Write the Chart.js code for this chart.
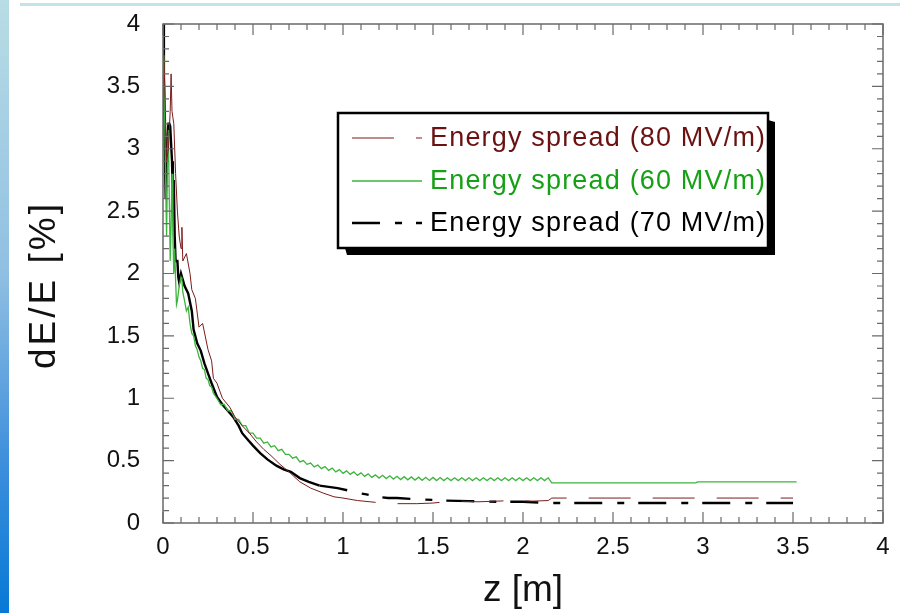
<!DOCTYPE html>
<html>
<head>
<meta charset="utf-8">
<script src="https://cdn.jsdelivr.net/npm/chart.js@4.4.1/dist/chart.umd.min.js"></script>
<style>
  body { margin: 0; background: #fff; }
  #wrap { position: relative; width: 900px; height: 613px; overflow: hidden; }
  #strip { position: absolute; left: 0; top: 0; width: 9px; height: 613px;
           background: linear-gradient(to bottom, #b9dde5 0%, #8fbfe2 45%, #3f8fdc 75%, #0679d6 100%); }
  #topline { position: absolute; left: 20px; top: 3px; width: 880px; height: 3px; background: #c4e2ea; }
  canvas { position: absolute; left: 0; top: 0; }
</style>
</head>
<body>
<div id="wrap">
  <div id="strip"></div>
  <div id="topline"></div>
  <canvas id="chart" width="900" height="613"></canvas>
</div>
<script>
// дані: [z (м), dE/E (%)]
const spread80 = [
    [0, 3.9], [0.01, 3.5], [0.02, 2.9], [0.03, 3.0], [0.04, 3.3], [0.045, 3.6], [0.05, 3.3],
    [0.06, 3.2], [0.07, 2.8], [0.08, 2.5], [0.09, 2.3], [0.1, 2.2], [0.105, 2.37], [0.11, 2.1],
    [0.13, 2.16], [0.15, 2.0], [0.16, 1.87], [0.18, 1.8], [0.2, 1.57], [0.22, 1.6], [0.25, 1.39],
    [0.27, 1.3], [0.28, 1.16], [0.3, 1.12], [0.33, 1.0], [0.37, 0.93], [0.4, 0.85], [0.44, 0.78],
    [0.48, 0.72], [0.52, 0.65], [0.56, 0.59], [0.6, 0.54], [0.65, 0.47], [0.7, 0.41], [0.76, 0.33],
    [0.82, 0.28], [0.89, 0.24], [0.95, 0.21], [1.0, 0.2], [1.08, 0.18], [1.15, 0.17], [1.22, 0.16],
    [1.3, 0.155], [1.41, 0.155], [1.5, 0.16], [1.57, 0.17], [1.65, 0.175], [1.75, 0.17],
    [1.85, 0.175], [1.95, 0.18], [2.05, 0.175], [2.14, 0.18], [2.16, 0.2], [2.5, 0.2], [3.0, 0.2], [3.5, 0.2]
];

const spread60 = [
    [0, 3.75], [0.005, 3.6], [0.01, 3.2], [0.015, 2.7], [0.02, 2.3], [0.025, 2.9], [0.03, 3.15],
    [0.035, 2.6], [0.04, 2.1], [0.045, 2.4], [0.05, 2.8], [0.055, 2.3], [0.06, 2.0], [0.065, 2.2],
    [0.07, 1.95], [0.075, 1.75], [0.08, 1.78], [0.09, 1.9], [0.1, 1.97], [0.105, 1.95], [0.11, 1.85],
    [0.12, 1.78], [0.13, 1.7], [0.14, 1.73], [0.15, 1.6], [0.16, 1.52], [0.17, 1.5], [0.18, 1.42],
    [0.19, 1.39], [0.2, 1.33], [0.21, 1.3], [0.22, 1.24], [0.23, 1.23], [0.24, 1.16], [0.25, 1.15],
    [0.26, 1.1], [0.27, 1.09], [0.28, 1.04],
    [0.30, 1.00], [0.32, 0.95], [0.34, 0.95], [0.36, 0.90], [0.38, 0.90], [0.40, 0.83], [0.42, 0.83],
    [0.44, 0.78], [0.46, 0.78], [0.48, 0.72], [0.50, 0.72], [0.52, 0.68], [0.54, 0.68], [0.56, 0.64],
    [0.58, 0.65], [0.60, 0.61], [0.62, 0.62], [0.64, 0.58], [0.66, 0.59], [0.68, 0.55], [0.70, 0.55],
    [0.72, 0.52], [0.74, 0.53], [0.76, 0.49], [0.78, 0.50], [0.80, 0.47], [0.82, 0.48], [0.84, 0.45],
    [0.86, 0.465], [0.88, 0.436], [0.90, 0.452], [0.92, 0.422], [0.94, 0.44], [0.96, 0.41],
    [0.98, 0.428], [1.00, 0.398], [1.02, 0.418], [1.04, 0.39], [1.06, 0.41], [1.08, 0.382],
    [1.10, 0.402], [1.12, 0.374], [1.14, 0.394], [1.16, 0.366], [1.18, 0.386], [1.20, 0.36],
    [1.22, 0.382], [1.24, 0.356], [1.26, 0.378], [1.28, 0.352], [1.30, 0.374], [1.32, 0.348],
    [1.34, 0.371], [1.36, 0.346], [1.38, 0.369], [1.40, 0.344], [1.42, 0.367], [1.44, 0.342],
    [1.46, 0.366], [1.48, 0.341], [1.50, 0.365], [1.52, 0.34], [1.54, 0.364], [1.56, 0.34],
    [1.58, 0.363], [1.60, 0.34], [1.62, 0.363], [1.64, 0.34], [1.66, 0.363], [1.68, 0.34],
    [1.70, 0.363], [1.72, 0.34], [1.74, 0.362], [1.76, 0.34], [1.78, 0.362], [1.80, 0.34],
    [1.82, 0.362], [1.84, 0.34], [1.86, 0.362], [1.88, 0.34], [1.90, 0.362], [1.92, 0.34],
    [1.94, 0.362], [1.96, 0.34], [1.98, 0.362], [2.00, 0.34], [2.02, 0.362], [2.04, 0.34],
    [2.06, 0.362], [2.08, 0.34], [2.10, 0.362], [2.12, 0.34], [2.14, 0.362],
    [2.16, 0.322], [2.96, 0.322], [2.97, 0.33], [3.52, 0.33]
];

const spread70 = [
    [0, 4.0], [0.005, 3.6], [0.01, 3.0], [0.015, 2.6], [0.02, 2.9], [0.025, 3.1], [0.03, 3.2],
    [0.035, 3.2], [0.04, 3.18], [0.05, 2.9], [0.055, 2.6], [0.06, 2.75], [0.065, 2.3], [0.07, 2.1],
    [0.08, 2.1], [0.085, 1.97], [0.09, 1.93], [0.1, 2.0], [0.11, 1.95], [0.12, 1.9], [0.14, 1.84],
    [0.16, 1.7], [0.17, 1.55], [0.19, 1.44], [0.21, 1.38], [0.23, 1.28], [0.25, 1.2], [0.27, 1.12],
    [0.3, 1.01], [0.33, 0.95], [0.36, 0.9], [0.39, 0.85], [0.42, 0.78], [0.44, 0.72], [0.47, 0.67],
    [0.5, 0.62], [0.54, 0.56], [0.58, 0.51], [0.63, 0.46], [0.67, 0.43], [0.71, 0.41], [0.76, 0.36],
    [0.81, 0.33], [0.87, 0.3], [0.92, 0.29], [0.97, 0.28], [1.03, 0.26], [1.08, 0.24], [1.13, 0.23],
    [1.19, 0.21], [1.25, 0.2], [1.3, 0.2], [1.41, 0.19], [1.5, 0.185], [1.56, 0.18], [1.7, 0.175],
    [1.85, 0.17], [2.0, 0.17], [2.15, 0.16], [2.5, 0.16], [3.0, 0.16], [3.5, 0.16]
];

const seriesLabels = ['Energy spread (80 MV/m)', 'Energy spread (60 MV/m)', 'Energy spread (70 MV/m)'];
const axisTicks = [0, 0.5, 1, 1.5, 2, 2.5, 3, 3.5, 4];

const FONT = "'Liberation Sans', Arial, sans-serif";
Chart.defaults.font.family = FONT;
Chart.defaults.color = '#111';

const dash80 = [42, 22];
const dash70 = [28, 15, 7, 14];

function toPoints(arr) {
    return arr.map(p => ({ x: p[0], y: p[1] }));
}

// на крутій ділянці криві на рисунку майже суцільні
function dashAfter(zStart, pattern) {
    return c => (c.p0.parsed.x < zStart ? [] : pattern);
}

// рамка з рисками всередину на всіх чотирьох сторонах
const framePlugin = {
    id: 'frame',
    afterDatasetsDraw(chart) {
        const ctx = chart.ctx;
        const ca = chart.chartArea;
        const xs = chart.scales.x;
        const ys = chart.scales.y;
        ctx.save();
        ctx.strokeStyle = '#6a6a6a';
        ctx.lineWidth = 1.5;
        ctx.strokeRect(ca.left, ca.top, ca.right - ca.left, ca.bottom - ca.top);
        ctx.lineWidth = 1.2;
        ctx.beginPath();
        for (let i = 0; i <= 40; i++) {
            const v = i / 10;
            const len = i % 5 === 0 ? 11 : 6;
            const px = xs.getPixelForValue(v);
            const py = ys.getPixelForValue(v);
            ctx.moveTo(px, ca.bottom); ctx.lineTo(px, ca.bottom - len);
            ctx.moveTo(px, ca.top); ctx.lineTo(px, ca.top + len);
            ctx.moveTo(ca.left, py); ctx.lineTo(ca.left + len, py);
            ctx.moveTo(ca.right, py); ctx.lineTo(ca.right - len, py);
        }
        ctx.stroke();
        ctx.restore();
    }
};

// підписи осей
const titlesPlugin = {
    id: 'titles',
    afterDraw(chart) {
        const ctx = chart.ctx;
        ctx.save();
        ctx.fillStyle = '#111';
        ctx.textAlign = 'center';
        ctx.textBaseline = 'middle';
        ctx.font = '37px ' + FONT;
        ctx.letterSpacing = '3px';
        ctx.translate(45, 285);
        ctx.rotate(-Math.PI / 2);
        ctx.fillText('dE/E [%]', 0, 0);
        ctx.restore();

        ctx.save();
        ctx.fillStyle = '#111';
        ctx.textAlign = 'center';
        ctx.textBaseline = 'middle';
        ctx.font = '37px ' + FONT;
        ctx.fillText('z [m]', 523, 591);
        ctx.restore();
    }
};

// легенда в рамці з тінню
const boxLegendPlugin = {
    id: 'boxLegend',
    afterDraw(chart) {
        const ctx = chart.ctx;
        const bx = 338, by = 113, bw = 430, bh = 135, sh = 7;
        const dashes = [dash80, [], dash70];
        ctx.save();
        ctx.fillStyle = '#000';
        ctx.beginPath();
        ctx.moveTo(bx + sh, by + bh);
        ctx.lineTo(bx + bw, by + bh);
        ctx.lineTo(bx + bw, by + sh);
        ctx.lineTo(bx + bw + sh, by + sh + 2);
        ctx.lineTo(bx + bw + sh, by + bh + sh);
        ctx.lineTo(bx + sh + 2, by + bh + sh);
        ctx.closePath();
        ctx.fill();
        ctx.fillStyle = '#fff';
        ctx.fillRect(bx, by, bw, bh);
        ctx.strokeStyle = '#000';
        ctx.lineWidth = 2.5;
        ctx.strokeRect(bx, by, bw, bh);

        const rows = [138, 181, 223];
        const textColors = ['#6a1212', '#16a016', '#000'];
        chart.data.datasets.forEach((ds, i) => {
            const y = rows[i];
            ctx.strokeStyle = ds.borderColor;
            ctx.lineWidth = ds.borderWidth;
            ctx.setLineDash(dashes[i]);
            ctx.beginPath();
            ctx.moveTo(352, y);
            ctx.lineTo(422, y);
            ctx.stroke();
            ctx.setLineDash([]);

            ctx.font = '27px ' + FONT;
            ctx.letterSpacing = '0px';
            const w = ctx.measureText(ds.label).width;
            const extra = Math.max(0, (335 - w) / (ds.label.length - 1));
            ctx.letterSpacing = extra.toFixed(2) + 'px';
            ctx.fillStyle = textColors[i];
            ctx.textAlign = 'left';
            ctx.textBaseline = 'middle';
            ctx.fillText(ds.label, 430, y + 1);
        });
        ctx.restore();
    }
};

function createSpreadChart() {
    const ctx = document.getElementById('chart').getContext('2d');
    new Chart(ctx, {
        type: 'line',
        data: {
            datasets: [
                {
                    label: seriesLabels[0],
                    data: toPoints(spread80),
                    borderColor: '#7a1c1c',
                    borderWidth: 1,
                    segment: { borderDash: dashAfter(0.95, dash80) }
                },
                {
                    label: seriesLabels[1],
                    data: toPoints(spread60),
                    borderColor: '#3db43d',
                    borderWidth: 1.3
                },
                {
                    label: seriesLabels[2],
                    data: toPoints(spread70),
                    borderColor: '#000',
                    borderWidth: 2.4,
                    segment: { borderDash: dashAfter(0.85, dash70) }
                }
            ]
        },
        options: {
            responsive: false,
            animation: false,
            events: [],
            elements: { point: { radius: 0 }, line: { tension: 0 } },
            layout: { padding: { top: 24, right: 17, left: 0, bottom: 0 } },
            plugins: { legend: { display: false }, tooltip: { enabled: false } },
            scales: {
                x: {
                    type: 'linear',
                    min: 0,
                    max: 4,
                    afterBuildTicks: s => { s.ticks = axisTicks.map(v => ({ value: v })); },
                    afterFit: s => { s.height = 90; s.paddingLeft = 0; s.paddingRight = 0; },
                    grid: { display: false, drawTicks: false },
                    border: { display: false },
                    ticks: {
                        color: '#111',
                        padding: 10,
                        maxRotation: 0,
                        autoSkip: false,
                        callback: v => String(v),
                        font: { family: FONT, size: 24 }
                    }
                },
                y: {
                    type: 'linear',
                    min: 0,
                    max: 4,
                    afterBuildTicks: s => { s.ticks = axisTicks.map(v => ({ value: v })); },
                    afterFit: s => { s.width = 163; s.paddingTop = 0; s.paddingBottom = 0; },
                    grid: { display: false, drawTicks: false },
                    border: { display: false },
                    ticks: {
                        color: '#111',
                        padding: 23,
                        callback: v => String(v),
                        font: { family: FONT, size: 24 }
                    }
                }
            }
        },
        plugins: [framePlugin, titlesPlugin, boxLegendPlugin]
    });
}

document.addEventListener('DOMContentLoaded', createSpreadChart);
</script>
</body>
</html>
